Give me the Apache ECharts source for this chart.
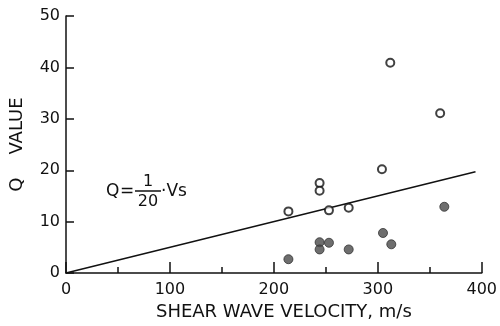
<!DOCTYPE html>
<html>
<head>
<meta charset="utf-8">
<script src="https://cdn.jsdelivr.net/npm/echarts@6/dist/echarts.min.js"></script>
<style>
  html, body { margin: 0; padding: 0; background: #fff; }
  #chart { width: 500px; height: 326px; }
</style>
</head>
<body>
<div id="chart"></div>
<script>
// Shear wave velocity (m/s) vs. Q value
const openVs = [312, 360, 304, 244, 244, 214, 253, 272];
const openQ  = [40.9, 31.1, 20.2, 17.5, 16.0, 12.0, 12.2, 12.7];

const filledVs = [364, 305, 313, 244, 244, 253, 272, 214];
const filledQ  = [12.9, 7.8, 5.6, 6.0, 4.6, 5.9, 4.6, 2.7];

// Q = Vs / 20 reference line
const lineVs = [0, 394];
const lineSlope = 1 / 20;

const xTicks = [0, 100, 200, 300, 400];
const yTicks = [0, 10, 20, 30, 40, 50];

const FONT = 'DejaVu Sans';
const INK = '#111';

const pairs = (xs, ys) => xs.map((x, i) => [x, ys[i]]);

const chart = echarts.init(document.getElementById('chart'), null, { renderer: 'canvas' });

chart.setOption({
  backgroundColor: '#fff',
  animation: false,
  grid: { left: 63, right: 14, top: 16, bottom: 50 },
  xAxis: {
    type: 'value',
    min: xTicks[0],
    max: xTicks[xTicks.length - 1],
    interval: 100,
    name: 'SHEAR WAVE VELOCITY, m/s',
    nameLocation: 'middle',
    nameGap: 27,
    nameTextStyle: { fontFamily: FONT, fontSize: 18, color: INK, padding: [0, 0, 0, 20] },
    axisLine: { show: true, lineStyle: { color: INK, width: 1.5 } },
    axisTick: { show: true, inside: true, length: 11, lineStyle: { color: INK, width: 1.5 } },
    minorTick: { show: true, splitNumber: 2, length: 6, lineStyle: { color: INK, width: 1.5 } },
    axisLabel: { fontFamily: FONT, fontSize: 16, color: INK, margin: 9 },
    splitLine: { show: false },
    minorSplitLine: { show: false }
  },
  yAxis: {
    type: 'value',
    min: yTicks[0],
    max: yTicks[yTicks.length - 1],
    interval: 10,
    name: 'Q    VALUE',
    nameLocation: 'middle',
    nameGap: 40,
    nameRotate: 90,
    nameTextStyle: { fontFamily: FONT, fontSize: 18, color: INK },
    axisLine: { show: true, lineStyle: { color: INK, width: 1.5 } },
    axisTick: { show: true, inside: true, length: 8, lineStyle: { color: INK, width: 1.5 } },
    axisLabel: { fontFamily: FONT, fontSize: 16, color: INK, margin: 6 },
    splitLine: { show: false }
  },
  series: [
    {
      type: 'line',
      data: lineVs.map(v => [v, v * lineSlope]),
      symbol: 'none',
      lineStyle: { color: INK, width: 1.5 },
      z: 2
    },
    {
      type: 'scatter',
      data: pairs(openVs, openQ),
      symbol: 'circle',
      symbolSize: 8,
      itemStyle: { color: '#fff', borderColor: INK, borderWidth: 2 },
      z: 3
    },
    {
      type: 'scatter',
      data: pairs(filledVs, filledQ),
      symbol: 'circle',
      symbolSize: 9,
      itemStyle: { color: '#4a4a4a', borderColor: '#333', borderWidth: 1 },
      z: 3
    }
  ],
  graphic: [
    {
      // Equation annotation: Q = (1/20)·Vs
      type: 'group',
      left: 106,
      top: 174,
      children: [
        { type: 'text', x: 0, y: 9, style: { text: 'Q', font: '17px ' + FONT, fill: INK } },
        { type: 'text', x: 14, y: 9, style: { text: '=', font: '17px ' + FONT, fill: INK } },
        { type: 'text', x: 42, y: 0, style: { text: '1', font: '16px ' + FONT, fill: INK, textAlign: 'center' } },
        { type: 'line', shape: { x1: 29, y1: 17, x2: 55, y2: 17 }, style: { stroke: INK, lineWidth: 1.5 } },
        { type: 'text', x: 42, y: 20, style: { text: '20', font: '16px ' + FONT, fill: INK, textAlign: 'center' } },
        { type: 'text', x: 55, y: 9, style: { text: '·Vs', font: '17px ' + FONT, fill: INK } }
      ]
    }
  ]
});
</script>
</body>
</html>
